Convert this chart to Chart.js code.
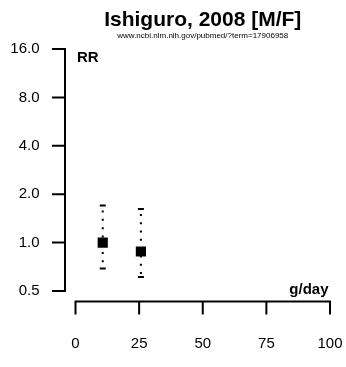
<!DOCTYPE html>
<html>
<head>
<meta charset="utf-8">
<script src="https://cdn.jsdelivr.net/npm/chart.js@4/dist/chart.umd.min.js"></script>
<style>
html,body{margin:0;padding:0;background:#fff;}
#wrap{width:346px;height:367px;position:relative;}
</style>
</head>
<body>
<div id="wrap"><canvas id="c" width="346" height="367"></canvas></div>
<script>
// Data
const titleText = "Ishiguro, 2008 [M/F]";
const subtitleText = "www.ncbi.nlm.nih.gov/pubmed/?term=17906958";
const doses = [10.7, 25.7];
const rr = [1.0, 0.88];
const rrLower = [0.69, 0.61];
const rrUpper = [1.70, 1.62];
const xTicks = [0, 25, 50, 75, 100];
const yTicks = [0.5, 1, 2, 4, 8, 16];
const yTickLabels = ["0.5", "1.0", "2.0", "4.0", "8.0", "16.0"];
const xAxisTitle = "g/day";
const yAxisTitle = "RR";

const FONT = "'Liberation Sans', Arial, Helvetica, sans-serif";

const customAxes = {
  id: 'customAxes',
  beforeDatasetsDraw(chart) {
    const ctx = chart.ctx;
    const xs = chart.scales.x, ys = chart.scales.y;
    ctx.save();
    // error bars
    ctx.strokeStyle = '#000';
    for (let i = 0; i < doses.length; i++) {
      const px = xs.getPixelForValue(doses[i]);
      const yU = ys.getPixelForValue(rrUpper[i]);
      const yL = ys.getPixelForValue(rrLower[i]);
      ctx.lineWidth = 2;
      ctx.setLineDash([2, 6.3]);
      ctx.lineDashOffset = -5;
      ctx.beginPath();
      ctx.moveTo(px, yU);
      ctx.lineTo(px, yL);
      ctx.stroke();
      ctx.setLineDash([]);
      ctx.lineWidth = 2;
      ctx.beginPath();
      ctx.moveTo(px - 3, yU); ctx.lineTo(px + 3, yU);
      ctx.moveTo(px - 3, yL); ctx.lineTo(px + 3, yL);
      ctx.stroke();
    }
    ctx.restore();
  },
  afterDraw(chart) {
    const ctx = chart.ctx;
    const xs = chart.scales.x, ys = chart.scales.y;
    const area = chart.chartArea;
    ctx.save();
    ctx.strokeStyle = '#000';
    ctx.fillStyle = '#000';
    ctx.lineWidth = 2;
    ctx.lineCap = 'butt';
    // y axis
    const axX = area.left - 10.5;
    const yTop = ys.getPixelForValue(yTicks[yTicks.length - 1]);
    const yBot = ys.getPixelForValue(yTicks[0]);
    ctx.beginPath();
    ctx.moveTo(axX, yTop - 1);
    ctx.lineTo(axX, yBot + 1);
    yTicks.forEach(v => {
      const py = ys.getPixelForValue(v);
      ctx.moveTo(axX, py);
      ctx.lineTo(axX - 13, py);
    });
    ctx.stroke();
    ctx.font = "15px " + FONT;
    ctx.textAlign = 'right';
    ctx.textBaseline = 'middle';
    yTicks.forEach((v, i) => {
      ctx.fillText(yTickLabels[i], 39.5, ys.getPixelForValue(v));
    });
    // x axis
    const axY = area.bottom + 10.5;
    const xL = xs.getPixelForValue(xTicks[0]);
    const xR = xs.getPixelForValue(xTicks[xTicks.length - 1]);
    ctx.beginPath();
    ctx.moveTo(xL - 1, axY);
    ctx.lineTo(xR + 1, axY);
    xTicks.forEach(v => {
      const px = xs.getPixelForValue(v);
      ctx.moveTo(px, axY);
      ctx.lineTo(px, axY + 13);
    });
    ctx.stroke();
    ctx.textAlign = 'center';
    ctx.textBaseline = 'alphabetic';
    xTicks.forEach(v => {
      ctx.fillText(String(v), xs.getPixelForValue(v), 348);
    });
    // axis titles
    ctx.font = "bold 15px " + FONT;
    ctx.textAlign = 'left';
    ctx.fillText(yAxisTitle, 77, 62);
    ctx.textAlign = 'right';
    ctx.fillText(xAxisTitle, 328.5, 294);
    // title
    const cx = (area.left + area.right) / 2;
    ctx.textAlign = 'center';
    ctx.font = "bold 21px " + FONT;
    ctx.fillText(titleText, cx, 26);
    ctx.font = "8px " + FONT;
    ctx.fillText(subtitleText, cx, 38);
    ctx.restore();
  }
};

new Chart(document.getElementById('c'), {
  type: 'scatter',
  data: {
    datasets: [{
      data: doses.map((d, i) => ({x: d, y: rr[i]})),
      pointStyle: 'rect',
      pointRadius: 7.2,
      pointHoverRadius: 7.2,
      backgroundColor: '#000',
      borderColor: '#000',
      borderWidth: 0
    }]
  },
  options: {
    responsive: false,
    animation: false,
    devicePixelRatio: 1,
    layout: { padding: { left: 75.5, right: 16, top: 49, bottom: 76 } },
    plugins: { legend: { display: false }, title: { display: false }, tooltip: { enabled: false } },
    events: [],
    scales: {
      x: { type: 'linear', min: 0, max: 100, display: false },
      y: { type: 'logarithmic', min: 0.5, max: 16, display: false }
    }
  },
  plugins: [customAxes]
});
</script>
</body>
</html>
